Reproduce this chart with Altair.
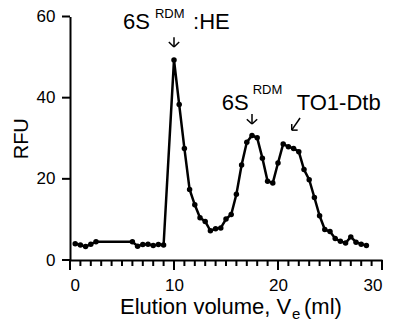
import altair as alt
import pandas as pd

# Elution volume (ml) and fluorescence (RFU)
ve = [0.5, 1.0, 1.5, 2.0, 2.5, 6.0, 6.5, 7.0, 7.5, 8.0, 8.5, 9.0,
      10.0, 10.5, 11.0, 11.5, 12.0, 12.5, 13.0, 13.5, 14.0, 14.5,
      15.0, 15.5, 16.0, 16.5, 17.0, 17.5, 18.0, 18.5, 19.0, 19.5,
      20.0, 20.5, 21.0, 21.5, 22.0, 22.5, 23.0, 23.5, 24.0, 24.5,
      25.0, 25.5, 26.0, 26.5, 27.0, 27.5, 28.0, 28.5]
rfu = [4.0, 3.7, 3.3, 3.9, 4.5, 4.5, 3.4, 3.8, 3.9, 3.6, 3.8, 3.7,
       49.3, 38.3, 27.5, 17.4, 13.6, 10.4, 9.5, 7.2, 7.7, 7.9,
       10.1, 11.2, 16.2, 23.4, 29.0, 30.7, 30.1, 25.1, 19.4, 19.0,
       23.9, 28.6, 27.9, 27.5, 26.7, 22.3, 19.8, 15.4, 10.9, 7.5,
       7.0, 5.3, 4.6, 4.2, 5.7, 4.4, 3.9, 3.6]

x_minor_ticks = list(range(0, 31))
x_major_ticks = [0, 10, 20, 30]
y_ticks = [0, 20, 40, 60]

# annotation labels (data coordinates)
ann_text = ["6S", "RDM", ":HE", "6S", "RDM", "TO1-Dtb"]
ann_x = [5.1, 8.17, 11.83, 14.6, 17.57, 21.8]
ann_y = [56.9, 59.7, 56.9, 37.0, 40.8, 37.0]
ann_fs = [22, 13, 22, 22, 13, 22]

# arrows (segments in data coordinates)
arr_x = [10.0, 9.5, 10.5, 17.5, 17.0, 18.0, 22.12, 21.32, 21.89]
arr_y = [54.9, 53.7, 53.7, 36.0, 34.7, 34.7, 35.0, 33.5, 32.0]
arr_x2 = [10.0, 10.0, 10.0, 17.5, 17.5, 17.5, 21.32, 21.32, 21.32]
arr_y2 = [52.5, 52.5, 52.5, 33.5, 33.5, 33.5, 32.0, 32.0, 32.0]

FONT = "Liberation Sans"
W, H = 312, 243.5

df = pd.DataFrame({"ve": ve, "rfu": rfu})
ann = pd.DataFrame({"t": ann_text, "x": ann_x, "y": ann_y, "fs": ann_fs})
arr = pd.DataFrame({"x": arr_x, "y": arr_y, "x2": arr_x2, "y2": arr_y2})
xminor = pd.DataFrame({"v": x_minor_ticks})
xmajor = pd.DataFrame({"v": x_major_ticks})
ytk = pd.DataFrame({"v": y_ticks})
one = pd.DataFrame({"a": [0]})

xscale = alt.Scale(domain=[0, 30], nice=False)
yscale = alt.Scale(domain=[0, 60], nice=False)

xaxis = alt.Axis(values=x_major_ticks, ticks=False, tickSize=0, labelPadding=17,
                 title=None, labelFontSize=17)
yaxis = alt.Axis(
    values=y_ticks, ticks=False, tickSize=0, labelPadding=15, labelFontSize=17,
    title="RFU", titleFontSize=20, titleAngle=-90, titleX=-43, titleY=H / 2,
    titleAlign="center", titleBaseline="alphabetic",
)

line = alt.Chart(df).mark_line(color="black", strokeWidth=2.5).encode(
    x=alt.X("ve:Q", scale=xscale, axis=xaxis),
    y=alt.Y("rfu:Q", scale=yscale, axis=yaxis),
)
pts = alt.Chart(df).mark_point(filled=True, color="black", size=30, opacity=1).encode(
    x=alt.X("ve:Q"),
    y=alt.Y("rfu:Q"),
)
labels = alt.Chart(ann).mark_text(align="left", baseline="alphabetic", font=FONT,
                                  color="black").encode(
    x=alt.X("x:Q"),
    y=alt.Y("y:Q"),
    text="t:N",
    size=alt.Size("fs:Q", scale=None, legend=None),
)
arrows = alt.Chart(arr).mark_rule(color="black", strokeWidth=1.5).encode(
    x=alt.X("x:Q"),
    y=alt.Y("y:Q"),
    x2="x2:Q",
    y2="y2:Q",
)
# axis tick marks
minor_t = alt.Chart(xminor).mark_rule(color="black", strokeWidth=2).encode(
    x=alt.X("v:Q"), y=alt.value(H), y2=alt.value(H + 6))
major_t = alt.Chart(xmajor).mark_rule(color="black", strokeWidth=2).encode(
    x=alt.X("v:Q"), y=alt.value(H), y2=alt.value(H + 10))
y_t = alt.Chart(ytk).mark_rule(color="black", strokeWidth=2).encode(
    y=alt.Y("v:Q"), x=alt.value(-8), x2=alt.value(0))


def txt(s, px, py, fs):
    return alt.Chart(one).mark_text(align="left", baseline="alphabetic", font=FONT,
                                    color="black", fontSize=fs).encode(
        x=alt.value(px), y=alt.value(py), text=alt.value(s))


t1 = txt("Elution volume, V", 50, 297.5, 22)
t2 = txt("e", 222, 302, 15)
t3 = txt("(ml)", 234, 297.5, 22)

chart = alt.layer(line, pts, minor_t, major_t, y_t, arrows, labels, t1, t2, t3).properties(
    width=W,
    height=H,
    background="white",
    autosize=alt.AutoSizeParams(type="none"),
    padding={"left": 62, "top": 8.5, "right": 4, "bottom": 61},
).configure_view(
    stroke=None
).configure_axis(
    domainColor="black", domainWidth=2, grid=False, labelFont=FONT,
    labelColor="black", titleFont=FONT, titleColor="black", titleFontWeight="normal",
)

chart.save("out.html", embed_options={"renderer": "svg", "actions": False})
